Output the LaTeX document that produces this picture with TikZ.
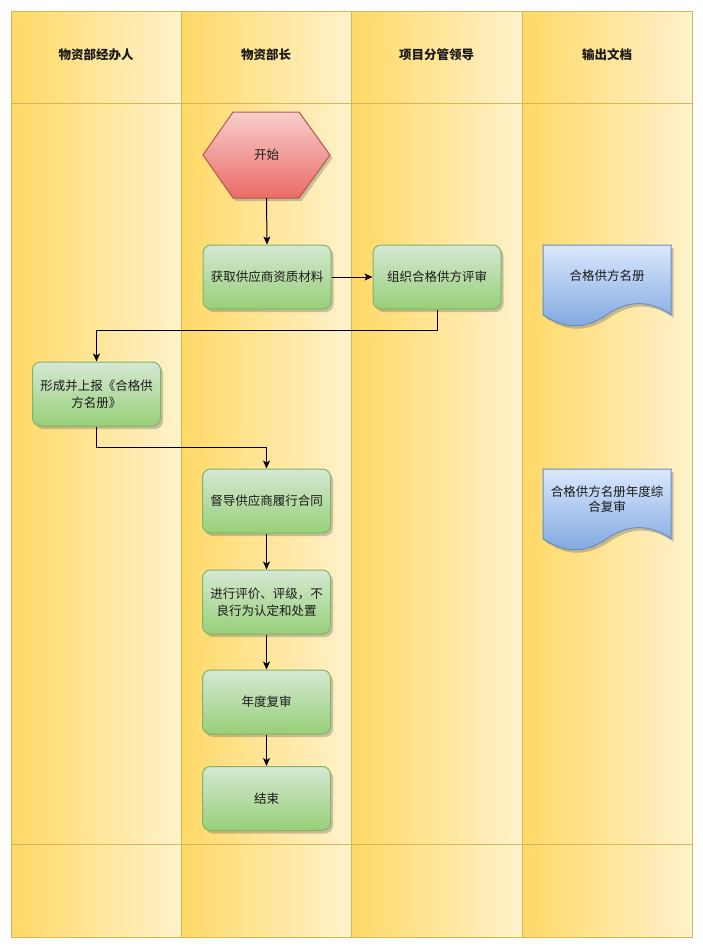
\documentclass[tikz,border=0pt]{standalone}
\usepackage{fontspec}
\setmainfont{Noto Sans CJK SC}
\usetikzlibrary{arrows.meta,shadows}
\definecolor{laneL}{HTML}{FFD966}
\definecolor{laneR}{HTML}{FFF2CC}
\definecolor{laneS}{HTML}{D6B656}
\definecolor{grnT}{HTML}{D5E8D4}
\definecolor{grnB}{HTML}{97D077}
\definecolor{grnS}{HTML}{82B366}
\definecolor{redT}{HTML}{F8CECC}
\definecolor{redB}{HTML}{EA6B66}
\definecolor{redS}{HTML}{B85450}
\definecolor{bluT}{HTML}{DAE8FC}
\definecolor{bluB}{HTML}{7EA6E0}
\definecolor{bluS}{HTML}{6C8EBF}
\definecolor{txt}{HTML}{1A1A1A}
\tikzset{
  lane/.style={left color=laneL, right color=laneR, draw=laneS, line width=1pt},
  hdr/.style={font=\fontsize{12.5pt}{15pt}\selectfont\bfseries, text=txt, align=center},
  shd/.style={drop shadow={shadow xshift=2.5pt, shadow yshift=-3pt, opacity=0.35, fill=black!60}},
  procbox/.style={rectangle, rounded corners=8pt, minimum width=128pt, minimum height=64pt,
    draw=grnS, line width=1pt, top color=grnT, bottom color=grnB, shd,
    font=\fontsize{12.5pt}{17pt}\selectfont, text=txt, align=center, inner sep=2pt},
  doctext/.style={font=\fontsize{12.5pt}{15pt}\selectfont, text=txt, align=center},
  conn/.style={draw=black, line width=1pt, -{Stealth[length=8pt,width=7pt,inset=2pt]}}
}
\begin{document}
\begin{tikzpicture}[x=1pt,y=-1pt]
\useasboundingbox (0,0) rectangle (703,948);
\fill[white] (0,0) rectangle (703,948);
% swimlanes
\foreach \xa/\xb in {11/181,181/351,351/522,522/692}{
  \path[lane] (\xa,11) rectangle (\xb,103);
  \path[lane] (\xa,103) rectangle (\xb,844);
  \path[lane] (\xa,844) rectangle (\xb,937);
}
\node[hdr] (h1) at (96,55) {物资部经办人};
\node[hdr] (h2) at (266,55) {物资部长};
\node[hdr] (h3) at (436.5,55) {项目分管领导};
\node[hdr] (h4) at (607,55) {输出文档};
% start hexagon
\path[draw=redS, line width=1pt, top color=redT, bottom color=redB, shd]
  (203,155) -- (233,112) -- (299,112) -- (330,155) -- (299,198) -- (233,198) -- cycle;
\node[minimum width=127pt, minimum height=86pt, inner sep=0pt, outer sep=0pt,
  font=\fontsize{12.5pt}{15pt}\selectfont, text=txt] (start) at (266.5,155) {开始};
% process boxes
\node[procbox] (b1) at (267,277) {获取供应商资质材料};
\node[procbox] (b2) at (437,277) {组织合格供方评审};
\node[procbox] (b3) at (96.5,394) {形成并上报《合格供\\方名册》};
\node[procbox] (b4) at (266.5,501) {督导供应商履行合同};
\node[procbox] (b5) at (266.5,602) {进行评价、评级，不\\良行为认定和处置};
\node[procbox] (b6) at (266.5,702) {年度复审};
\node[procbox] (b7) at (266.5,798.5) {结束};
% documents
\begin{scope}[shift={(543,245)}]
\path[draw=bluS, line width=1pt, top color=bluT, bottom color=bluB, shd]
  (0,0) -- (128,0) -- (128,69.7) .. controls (106.67,54.94) and (85.33,54.94) .. (64,69.7)
  .. controls (42.67,84.46) and (21.33,84.46) .. (0,69.7) -- cycle;
\end{scope}
\node[doctext] (d1) at (607,276) {合格供方名册};
\begin{scope}[shift={(543,469)}]
\path[draw=bluS, line width=1pt, top color=bluT, bottom color=bluB, shd]
  (0,0) -- (128,0) -- (128,69.7) .. controls (106.67,54.94) and (85.33,54.94) .. (64,69.7)
  .. controls (42.67,84.46) and (21.33,84.46) .. (0,69.7) -- cycle;
\end{scope}
\node[doctext] (d2) at (607,499) {合格供方名册年度综\\合复审};
% connectors
\draw[conn] (start.south) -- (b1.north);
\draw[conn] (b1.east) -- (b2.west);
\draw[conn] (b2.south) -- ++(0,21) -| (b3.north);
\draw[conn] (b3.south) -- ++(0,21) -| (b4.north);
\draw[conn] (b4.south) -- (b5.north);
\draw[conn] (b5.south) -- (b6.north);
\draw[conn] (b6.south) -- (b7.north);
\end{tikzpicture}
\end{document}
